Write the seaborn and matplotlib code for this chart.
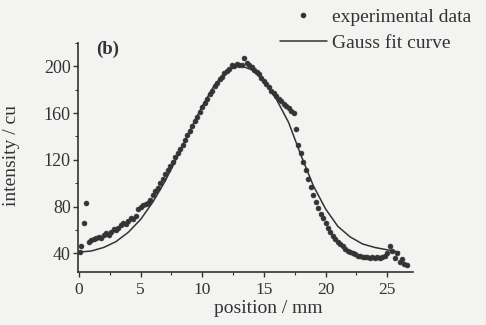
import matplotlib
matplotlib.use("Agg")
import matplotlib.pyplot as plt
import seaborn as sns
import pandas as pd
import numpy as np
from matplotlib.ticker import MultipleLocator
from matplotlib.lines import Line2D

# --- data ---
pos_data = [0.1, 0.15, 0.4, 0.55, 0.8, 1.0, 1.2, 1.4, 1.6, 1.8, 2.0, 2.2, 2.4, 2.6, 2.8,
            3.0, 3.2, 3.4, 3.6, 3.8, 4.0, 4.2, 4.4, 4.6, 4.8, 5.0, 5.2, 5.4, 5.6, 5.8,
            6.0, 6.2, 6.4, 6.6, 6.8, 7.0, 7.2, 7.4, 7.6, 7.8, 8.0, 8.2, 8.4, 8.6, 8.8,
            9.0, 9.2, 9.4, 9.6, 9.8, 10.0, 10.2, 10.4, 10.6, 10.8, 11.0, 11.2, 11.4, 11.6, 11.8,
            12.0, 12.2, 12.4, 12.6, 12.8, 13.0, 13.2, 13.4, 13.6, 13.8, 14.0, 14.2, 14.4, 14.6, 14.8,
            15.0, 15.2, 15.4, 15.6, 15.8, 16.0, 16.2, 16.4, 16.6, 16.8, 17.0, 17.2, 17.4, 17.6, 17.8,
            18.0, 18.2, 18.4, 18.6, 18.8, 19.0, 19.2, 19.4, 19.6, 19.8, 20.0, 20.2, 20.4, 20.6, 20.8,
            21.0, 21.2, 21.4, 21.6, 21.8, 22.0, 22.2, 22.4, 22.6, 22.8, 23.0, 23.2, 23.4, 23.6, 23.8,
            24.0, 24.2, 24.4, 24.6, 24.8, 25.0, 25.2, 25.4, 25.6, 25.8, 26.0, 26.2, 26.4, 26.6]
intensity_data = [41, 46, 66, 83, 50, 51, 52, 53, 54, 53, 56, 57, 56, 58, 61,
                  60, 62, 64, 66, 65, 68, 70, 69, 72, 78, 80, 81, 82, 83, 86,
                  90, 93, 96, 100, 104, 108, 111, 115, 118, 122, 126, 129, 133, 137, 141,
                  145, 149, 153, 157, 161, 165, 169, 172, 176, 179, 183, 186, 189, 191, 194,
                  196, 198, 201, 200, 202, 201, 201, 207, 203, 201, 199, 197, 195, 193, 190,
                  187, 185, 182, 179, 177, 175, 172, 170, 168, 166, 164, 162, 160, 146, 133,
                  126, 118, 111, 104, 97, 90, 84, 79, 74, 70, 66, 62, 58, 55, 52,
                  50, 48, 46, 44, 42, 41, 40, 39, 38, 38, 37, 37, 37, 36, 37,
                  36, 37, 36, 37, 38, 40, 46, 42, 36, 40, 33, 35, 31, 30]

pos_fit = [0, 1, 2, 3, 4, 5, 6, 7, 8, 9, 10, 11, 12, 13, 14, 15, 16, 17, 18, 19,
           20, 21, 22, 23, 24, 25, 26]
intensity_fit = [41, 42, 45, 50, 58, 69, 84, 102, 123, 145, 166, 184, 196, 201, 197, 188,
                 172, 152, 124, 98, 78, 63, 54, 48, 45, 43, 41]

df_data = pd.DataFrame({"position": pos_data, "intensity": intensity_data})
df_fit = pd.DataFrame({"position": pos_fit, "intensity": intensity_fit})

sns.set_style("ticks")
plt.rcParams['font.family'] = ['Liberation Serif', 'DejaVu Serif']

bg = '#f3f3f2'
ink = '#333333'
fig = plt.figure(figsize=(4.86, 3.25), dpi=100, facecolor=bg)
ax = fig.add_axes([0.16, 0.163, 0.69, 0.705], facecolor=bg)

sns.lineplot(data=df_fit, x="position", y="intensity", color=ink, lw=1.1, ax=ax)
sns.scatterplot(data=df_data, x="position", y="intensity", color=ink, marker='o',
                s=12, edgecolor=ink, linewidth=0.5, ax=ax, zorder=3)

ax.set_xlim(-0.1, 27.1)
ax.set_ylim(24, 220)
ax.xaxis.set_major_locator(MultipleLocator(5))
ax.xaxis.set_minor_locator(MultipleLocator(2.5))
ax.yaxis.set_major_locator(MultipleLocator(40))
ax.yaxis.set_minor_locator(MultipleLocator(20))
ax.tick_params(which='major', direction='out', length=3.5, width=1, colors=ink)
ax.tick_params(which='minor', direction='out', length=2, width=0.8, colors=ink)
ax.tick_params(axis='x', labelsize=12.5, pad=4)
ax.tick_params(axis='y', labelsize=13, pad=1.5)
for side in ['top', 'right']:
    ax.spines[side].set_visible(False)
for side in ['left', 'bottom']:
    ax.spines[side].set_color(ink)
    ax.spines[side].set_linewidth(1.2)

ax.set_xlabel("position / mm", fontsize=14, color=ink)
ax.set_ylabel("intensity / cu", fontsize=14, color=ink)
ax.xaxis.set_label_coords(0.567, -0.12)
ax.yaxis.set_label_coords(-0.173, 0.51)

ax.text(0.09, 0.97, "(b)", transform=ax.transAxes, fontsize=13.5, fontweight='bold',
        color=ink, va='center', ha='center')

handles = [Line2D([], [], marker='o', ls='none', color=ink, markersize=3),
           Line2D([], [], color=ink, lw=1.1)]
fig.legend(handles, ["experimental data", "Gauss fit curve"], loc='upper left',
           bbox_to_anchor=(280 / 486, 1 - 8 / 325), frameon=False, fontsize=14,
           handlelength=2.4, borderpad=0, borderaxespad=0,
           labelspacing=0.45, handletextpad=0.25, labelcolor=ink)

fig.savefig("out.png", dpi=100, facecolor=bg)
